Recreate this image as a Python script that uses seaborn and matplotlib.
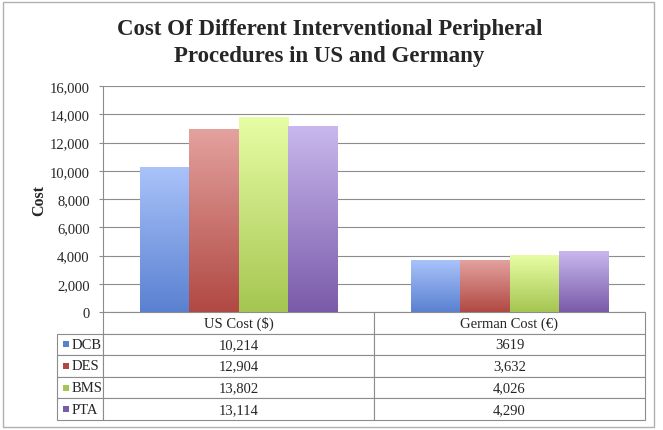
import numpy as np
import pandas as pd
import matplotlib
matplotlib.use("Agg")
import matplotlib.pyplot as plt
from matplotlib.patches import Rectangle
from matplotlib.ticker import FuncFormatter
from matplotlib.colors import to_rgb
import seaborn as sns

# Data
categories = ["US Cost ($)", "German Cost (€)"]
procedures = ["DCB", "DES", "BMS", "PTA"]
us_cost = [10214, 12904, 13802, 13114]
german_cost = [3619, 3632, 4026, 4290]
german_labels = ["3619", "3,632", "4,026", "4,290"]

# gradient colours per procedure (top, bottom)
top_colors = ["#a9c2f9", "#e3a19e", "#e7fda4", "#c8b7ed"]
bottom_colors = ["#5a81d1", "#b14943", "#a5c652", "#7a5baa"]

sns.set_style("white")
plt.rcParams['font.family'] = ['Liberation Serif', 'DejaVu Serif']

df = pd.DataFrame({
    'category': np.repeat(categories, len(procedures)),
    'procedure': procedures * len(categories),
    'cost': us_cost + german_cost,
})

fig = plt.figure(figsize=(6.63, 4.31), dpi=100)
ax = fig.add_axes([103 / 663, 1 - 313 / 431, 542 / 663, 226 / 431])

sns.barplot(data=df, x='category', y='cost', hue='procedure', order=categories,
            hue_order=procedures, palette=bottom_colors, width=0.73,
            legend=False, ax=ax, zorder=2)

# replace flat fills with vertical gradients
for container, c_top, c_bot in zip(ax.containers, top_colors, bottom_colors):
    grad = np.linspace(0, 1, 64)[:, None, None]
    img = (1 - grad) * np.array(to_rgb(c_top)) + grad * np.array(to_rgb(c_bot))
    for bar in container:
        x0, w, h = bar.get_x(), bar.get_width(), bar.get_height()
        ax.imshow(img, extent=[x0, x0 + w, 0, h], aspect='auto',
                  origin='upper', zorder=2.5, interpolation='bilinear')
        bar.set_alpha(0)

ax.set_xlim(-0.5, 1.5)
ax.set_ylim(0, 16000)
ax.set_yticks(range(0, 16001, 2000))
ax.yaxis.set_major_formatter(FuncFormatter(lambda v, p: f"{int(v):,}"))
ax.tick_params(axis='y', which='both', left=True, length=3, width=0.8,
               color='#8c8c8c', pad=6.5, labelsize=10.5)
ax.set_xticks([])
ax.set_xlabel('')
ax.set_ylabel('Cost', fontsize=11.5, fontweight='bold')
ax.yaxis.set_label_coords(-0.102, 0.5)
ax.grid(True, axis='y', color='#8c8c8c', linewidth=0.8, zorder=0)
ax.set_axisbelow(True)
for side in ['top', 'right', 'bottom']:
    ax.spines[side].set_visible(False)
ax.spines['left'].set_color('#8c8c8c')
ax.spines['left'].set_linewidth(0.8)

# data table under the plot (first column holds the series names)
cell_text = [[p, f"{u:,}", g] for p, u, g in zip(procedures, us_cost, german_labels)]
table = ax.table(cellText=cell_text, colLabels=[''] + categories,
                 colWidths=[46 / 542, 271 / 542, 271 / 542],
                 cellLoc='center', colLoc='center',
                 bbox=[-46 / 542, -108 / 226, 588 / 542, 108 / 226])
table.auto_set_font_size(False)
table.set_fontsize(10.5)
for (r, c), cell in table.get_celld().items():
    cell.set_edgecolor('#8c8c8c')
    cell.set_linewidth(0.8)
    cell.set_text_props(fontfamily=['Liberation Serif', 'DejaVu Serif'])
    if c == 0:
        cell._loc = 'left'
        cell.PAD = 15 / 46
        cell.get_text().set_ha('left')
table[0, 0].set_visible(False)
table[0, 0].get_text().set_visible(False)

# legend keys inside the row label cells
row_h = (108 / 226) / 5
for i, col in enumerate(bottom_colors):
    yc = -row_h * (1.5 + i)
    sq_w, sq_h = 6 / 542, 6 / 226
    ax.add_patch(Rectangle((-40 / 542, yc - sq_h / 2), sq_w, sq_h,
                           transform=ax.transAxes, facecolor=col,
                           edgecolor='none', clip_on=False))

fig.text(0.497, 1 - 43 / 431,
         "Cost Of Different Interventional Peripheral\nProcedures in US and Germany",
         ha='center', va='center', fontsize=16.5, fontweight='bold',
         linespacing=1.4)

# outer chart frame
fig.patches.append(Rectangle((3 / 663, 1 - 428 / 431), 651 / 663, 425 / 431,
                             transform=fig.transFigure, fill=False,
                             edgecolor='#b0b0b0', linewidth=1))

fig.savefig("out.png", dpi=100)
plt.close(fig)
